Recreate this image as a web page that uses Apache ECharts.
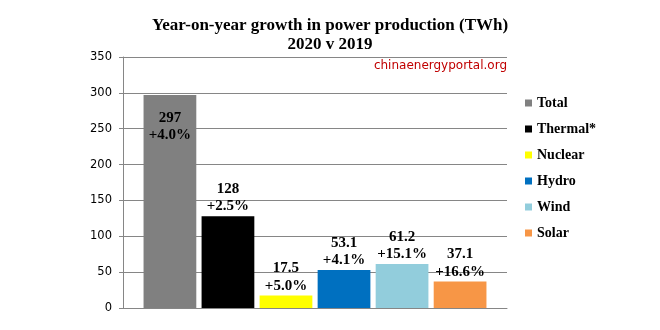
<!DOCTYPE html>
<html>
<head>
<meta charset="utf-8">
<script src="https://cdn.jsdelivr.net/npm/echarts@6/dist/echarts.min.js"></script>
<style>
  html, body { margin: 0; padding: 0; background: #fff; }
  #chart { width: 660px; height: 330px; }
</style>
</head>
<body>
<div id="chart"></div>
<script>
// Power production growth by source, 2020 vs 2019 (TWh)
const sources = ['Total', 'Thermal*', 'Nuclear', 'Hydro', 'Wind', 'Solar'];
const growthTWh = [297, 128, 17.5, 53.1, 61.2, 37.1];
const growthPct = ['+4.0%', '+2.5%', '+5.0%', '+4.1%', '+15.1%', '+16.6%'];
const colors = ['#808080', '#000000', '#ffff00', '#0070c0', '#92cddc', '#f79646'];
const yTicks = [0, 50, 100, 150, 200, 250, 300, 350];

const serif = '"Liberation Serif", "DejaVu Serif", serif';
const chart = echarts.init(document.getElementById('chart'));

const series = sources.map((name, i) => ({
  name: name,
  type: 'bar',
  data: [growthTWh[i]],
  itemStyle: { color: colors[i] },
  barGap: '10%',
  barCategoryGap: '10.7%',
  label: {
    show: true,
    position: i === 0 ? 'insideTop' : 'top',
    distance: i === 0 ? 14 : 1,
    formatter: () => growthTWh[i] + '\n' + growthPct[i],
    fontFamily: serif,
    fontWeight: 'bold',
    fontSize: 15,
    lineHeight: 17.5,
    color: '#000'
  }
}));

chart.setOption({
  animation: false,
  title: {
    text: 'Year-on-year growth in power production (TWh)\n2020 v 2019',
    left: 'center',
    top: 11,
    textStyle: {
      fontFamily: serif,
      fontWeight: 'bold',
      fontSize: 17,
      lineHeight: 19,
      color: '#000'
    }
  },
  graphic: [{
    type: 'text',
    right: 153,
    top: 60,
    style: {
      text: 'chinaenergyportal.org',
      fontFamily: '"DejaVu Sans", sans-serif',
      fontSize: 12,
      fill: '#c00000'
    }
  }],
  legend: {
    orient: 'vertical',
    left: 520,
    top: 90,
    icon: 'rect',
    itemWidth: 7,
    itemHeight: 7,
    itemGap: 10,
    textStyle: {
      fontFamily: serif,
      fontWeight: 'bold',
      fontSize: 14,
      lineHeight: 16,
      color: '#000'
    },
    data: sources
  },
  grid: { left: 123, right: 153, top: 57, bottom: 22 },
  xAxis: {
    type: 'category',
    data: ['2020 v 2019'],
    axisLine: { lineStyle: { color: '#868686' } },
    axisTick: { show: false },
    axisLabel: { show: false }
  },
  yAxis: {
    type: 'value',
    min: yTicks[0],
    max: yTicks[yTicks.length - 1],
    interval: 50,
    axisLine: { show: true, lineStyle: { color: '#868686' } },
    axisTick: { show: true, length: 4, lineStyle: { color: '#868686' } },
    axisLabel: {
      margin: 11,
      fontFamily: '"DejaVu Sans", sans-serif',
      fontSize: 11.5,
      color: '#000'
    },
    splitLine: { lineStyle: { color: '#868686' } }
  },
  series: series
});
</script>
</body>
</html>
